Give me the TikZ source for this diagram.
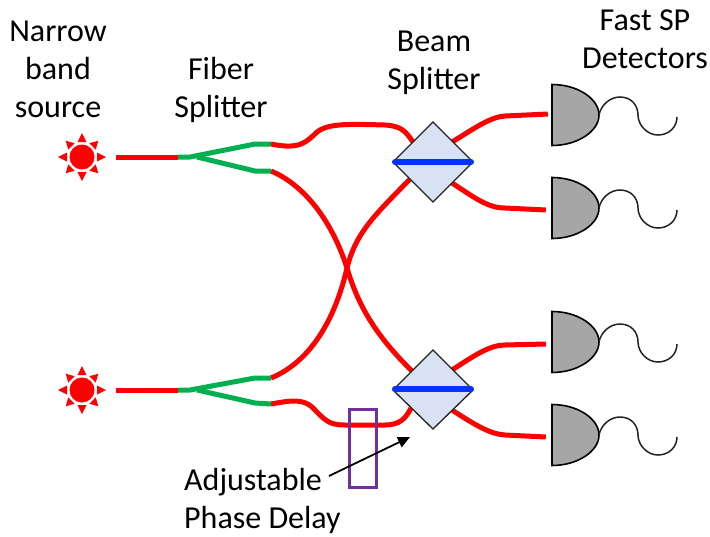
\documentclass[tikz,border=0pt]{standalone}
\usepackage{fontspec}
\setmainfont{Carlito}
\usetikzlibrary{arrows.meta}
\definecolor{fibre}{HTML}{FF0000}
\definecolor{split}{HTML}{00B050}
\definecolor{cube}{HTML}{D9E2F3}
\definecolor{mirror}{HTML}{0433FF}
\definecolor{delay}{HTML}{7030A0}
\definecolor{det}{HTML}{A6A6A6}
\definecolor{ink}{HTML}{222222}
\tikzset{
  fibreline/.style={draw=fibre,line width=5pt},
  splitline/.style={draw=split,line width=5pt},
  mirrorline/.style={draw=mirror,line width=6pt,line cap=round},
  cubebox/.style={draw=ink,fill=cube,line width=1.3pt,line join=miter},
  detbody/.style={draw=black,fill=det,line width=1.6pt},
  squiggle/.style={draw=ink,line width=1.5pt},
  lab/.style={font=\fontsize{32}{38}\selectfont,text=black,align=center,inner sep=0pt},
  pt/.style={inner sep=0pt,minimum size=0pt},
}
\newcommand{\sunshape}[2]{%
  \begin{scope}[shift={(#1,#2)}]
    \fill[fibre] (0,0) circle (12.5);
    \foreach \a in {0,90,180,270}{
      \fill[fibre,rotate=\a] (15,-4.5) -- (24,0) -- (15,4.5) -- cycle;
    }
    \foreach \a in {45,135,225,315}{
      \fill[fibre,rotate=\a] (15,-4.5) -- (23,0) -- (15,4.5) -- cycle;
    }
  \end{scope}}
\newcommand{\detshape}[2]{%
  \begin{scope}[shift={(552,#1)}]
    \path[detbody] (0,-30.5) .. controls (26,-30.5) and (47,-16) .. (47,0) .. controls (47,16) and (26,30.5) .. (0,30.5) -- cycle;
  \end{scope}
  \coordinate (#2) at (599,#1);
  \path[squiggle] (#2) .. controls (601,{#1-10}) and (610,{#1-18}) .. (620,{#1-18})
     .. controls (631,{#1-18}) and (638,{#1-10}) .. (638,#1)
     .. controls (638,{#1+10}) and (647,{#1+20}) .. (658,{#1+20})
     .. controls (669,{#1+20}) and (677,{#1+12}) .. (677,{#1+2});}
\begin{document}
\begin{tikzpicture}[x=1pt,y=-1pt]
\useasboundingbox (0,0) rectangle (710,536);
% coordinates
\coordinate (s1) at (116,157);
\coordinate (s2) at (116,390);
\coordinate (j1) at (178,157);
\coordinate (j2) at (178,390);
\coordinate (a1) at (271,144);
\coordinate (b1) at (271,171);
\coordinate (a2) at (271,378);
\coordinate (b2) at (271,404);
% red fibre
\draw[fibreline] (s1) -- (j1);
\draw[fibreline] (s2) -- (j2);
\node[pt] (c1in) at (413,142) {};
\node[pt] (c1lo) at (411,178) {};
\node[pt] (c2up) at (413,372) {};
\node[pt] (c2lo) at (411,408) {};
\draw[fibreline] (a1) .. controls (300,150) and (306,142) .. (316,133)
   .. controls (326,123) and (350,124) .. (385,125)
   .. controls (402,126) and (406,132) .. (c1in);
\draw[fibreline] (b1) .. controls (300,183) and (330,215) .. (347,268)
   .. controls (358,305) and (375,335) .. (c2up);
\draw[fibreline] (a2) .. controls (310,362) and (335,320) .. (347,268)
   .. controls (356,232) and (375,215) .. (c1lo);
\draw[fibreline] (b2) .. controls (288,401) and (302,398) .. (312,407)
   .. controls (325,420) and (328,425) .. (345,425)
   -- (385,425) .. controls (400,425) and (406,418) .. (c2lo);
% green splitters
\draw[splitline] (j1) -- (190,157) -- (255,144) -- (a1);
\draw[splitline] (197,157) -- (255,171) -- (b1);
\draw[splitline] (j2) -- (190,390) -- (255,378) -- (a2);
\draw[splitline] (197,390) -- (255,403) -- (b2);
% outputs
\node[pt] (d1a) at (548,114) {};
\node[pt] (d1b) at (546,210) {};
\node[pt] (d2a) at (546,344) {};
\node[pt] (d2b) at (546,437) {};
\draw[fibreline] (452,142) .. controls (475,128) and (490,117) .. (505,116) -- (d1a);
\draw[fibreline] (452,183) .. controls (475,198) and (488,208) .. (505,208) -- (d1b);
\draw[fibreline] (452,370) .. controls (475,355) and (490,345) .. (505,345) -- (d2a);
\draw[fibreline] (452,410) .. controls (475,425) and (490,434) .. (505,435) -- (d2b);
% cubes
\path[cubebox] (433,122) -- (473,162) -- (433,202) -- (393,162) -- cycle;
\path[cubebox] (433,350) -- (473,390) -- (433,429) -- (393,390) -- cycle;
\draw[mirrorline] (395,162) -- (471,162);
\draw[mirrorline] (395,389) -- (471,389);
% sources
\sunshape{82}{157}
\sunshape{82}{390}
% detectors
\detshape{115}{q1}
\detshape{208}{q2}
\detshape{342}{q3}
\detshape{435}{q4}
% delay
\node[draw=delay,line width=3.5pt,minimum width=27pt,minimum height=78pt,inner sep=0pt] (pd) at (363,448.5) {};
% labels
\node[lab] (t1) at (58,69) {Narrow\\band\\source};
\node[lab] (t2) at (221,90) {Fiber\\Splitter};
\node[lab] (t3) at (434,63) {Beam\\Splitter};
\node[lab] (t4) at (645,39) {Fast SP\\Detectors};
\node[lab,align=left,anchor=west] (t5) at (184,501) {Adjustable\\Phase Delay};
\coordinate (arrowfrom) at (329,476);
\coordinate (arrowto) at (410,437);
\draw[-{Triangle[length=12pt,width=11pt]},line width=1.8pt,black] (arrowfrom) -- (arrowto);
\end{tikzpicture}
\end{document}
